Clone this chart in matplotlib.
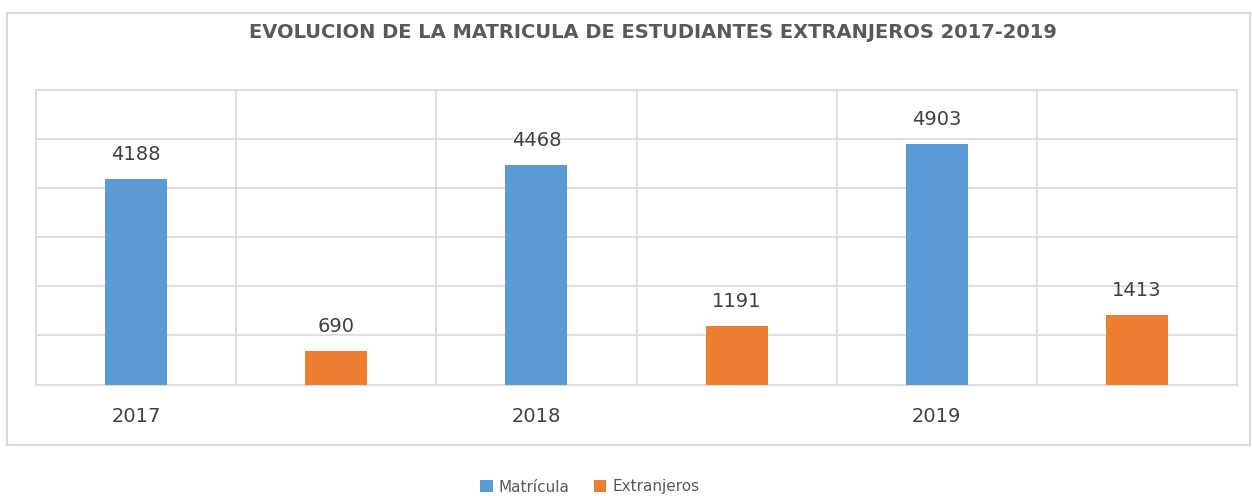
"""
Evolución de la matrícula de estudiantes extranjeros 2017-2019
Gráfico de barras (Matrícula vs Extranjeros)
"""

import matplotlib
matplotlib.use("Agg")
import matplotlib.pyplot as plt
from matplotlib.patches import Patch, Rectangle

# ── datos ──
years = ["2017", "2018", "2019"]
matricula = [4188, 4468, 4903]
extranjeros = [690, 1191, 1413]
series_names = ["Matrícula", "Extranjeros"]
title = "EVOLUCION DE LA MATRICULA DE ESTUDIANTES EXTRANJEROS 2017-2019"

# ── estilo ──
BLUE = "#5B9BD5"
ORANGE = "#ED7D31"
GRID = "#D9D9D9"
TEXT = "#404040"
TITLE_C = "#595959"

W, H = 1252, 496
plt.rcParams["font.family"] = ["DejaVu Sans"]

fig = plt.figure(figsize=(W / 100, H / 100), dpi=100)

# marco exterior del gráfico
fig.patches.append(Rectangle((6.5 / W, 1 - 445 / H), (1250 - 6.5) / W, (445 - 13) / H,
                             transform=fig.transFigure, fill=False,
                             edgecolor=GRID, linewidth=1.5))

ax = fig.add_axes([36 / W, 1 - 384.5 / H, (1237 - 36) / W, (384.5 - 90) / H])

# cada año ocupa dos columnas: matrícula y extranjeros
xs_m = [2 * i for i in range(len(years))]
xs_e = [2 * i + 1 for i in range(len(years))]
bar_w = 0.31

ax.bar(xs_m, matricula, width=bar_w, color=BLUE, zorder=3)
ax.bar(xs_e, extranjeros, width=bar_w, color=ORANGE, zorder=3)

for x, v in list(zip(xs_m, matricula)) + list(zip(xs_e, extranjeros)):
    ax.annotate(str(v), (x, v), xytext=(0, 17.5), textcoords="offset points",
                ha="center", va="center", fontsize=14, color=TEXT)

ax.set_xlim(-0.5, 2 * len(years) - 0.5)
ax.set_ylim(0, 6000)
ax.set_yticks(range(0, 6001, 1000))
ax.set_yticklabels([])
ax.set_xticks(xs_m)
ax.set_xticklabels(years, fontsize=14, color=TEXT)
ax.set_xticks([x - 0.5 for x in range(2 * len(years) + 1)], minor=True)
ax.tick_params(axis="both", which="both", length=0)
ax.tick_params(axis="x", pad=16)

ax.grid(True, axis="y", which="major", color=GRID, linewidth=1.2, zorder=0)
ax.grid(True, axis="x", which="minor", color=GRID, linewidth=1.2, zorder=0)
for s in ax.spines.values():
    s.set_color(GRID)
    s.set_linewidth(1.2)

fig.text(653 / W, 1 - 33 / H, title, ha="center", va="center",
         fontsize=14, fontweight="bold", color=TITLE_C)

handles = [Patch(facecolor=BLUE), Patch(facecolor=ORANGE)]
fig.legend(handles, series_names, loc="center", bbox_to_anchor=(590 / W, 1 - 487 / H),
           ncol=2, frameon=False, fontsize=11, handlelength=0.8, handleheight=0.8,
           handletextpad=0.4, columnspacing=1.6, labelcolor=TITLE_C)

fig.savefig("out.png", dpi=100)
